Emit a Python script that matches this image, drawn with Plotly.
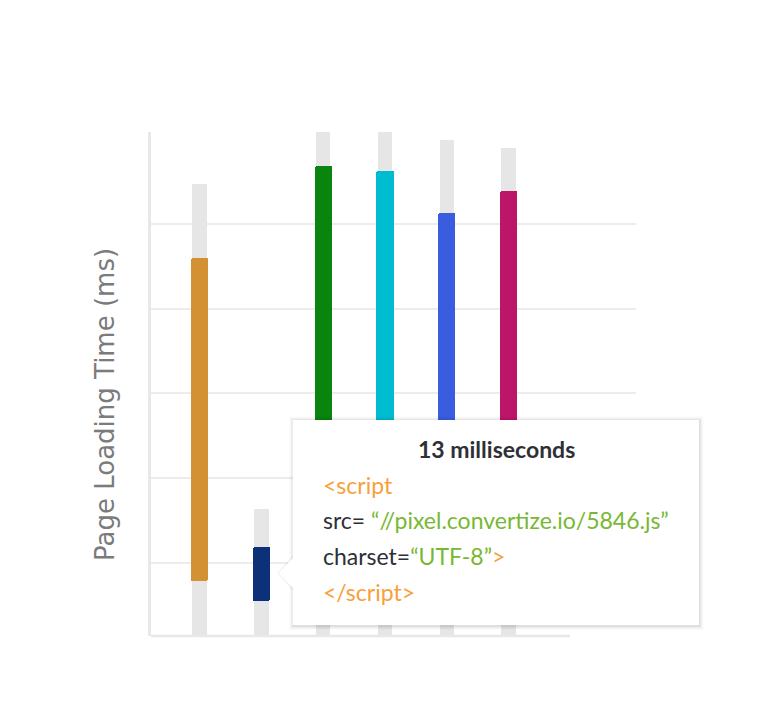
import plotly.graph_objects as go

# page loading time per snippet, in ms
snippets = ["s1", "s2", "s3", "s4", "s5", "s6"]
track_top = [109.4, 32.7, 122.0, 122.0, 119.8, 117.9]
load_low = [15.8, 11.0, 30.0, 28.0, 26.0, 24.0]
load_high = [92.0, 23.8, 113.7, 112.5, 102.6, 107.8]
bar_colors = ["#d39133", "#0d3178", "#08840f", "#00bcd0", "#3a5de0", "#bc1669"]
grid_ticks = [20, 40, 60, 80, 100]

# plot area in page pixels; the page body adds an 8px offset
OFF = 8
L, R, T, B = 151, 636, 132, 636
W, H = R - L, B - T
FIG_W, FIG_H = 780 - 2 * OFF, 716 - 2 * OFF


def px(x):
    return (x - L) / W


def py(y):
    return (B - y) / H


fig = go.Figure()

fig.add_trace(go.Bar(
    x=snippets, y=track_top, base=0, width=0.233,
    marker=dict(color="#e6e6e6", line=dict(width=0)),
    hoverinfo="skip", showlegend=False,
))
fig.add_trace(go.Bar(
    x=snippets, y=[h - l for h, l in zip(load_high, load_low)], base=load_low,
    width=0.278,
    marker=dict(color=bar_colors, line=dict(width=0), cornerradius=2),
    showlegend=False,
))

shapes = []
# bottom line
shapes.append(dict(type="line", xref="paper", yref="paper",
                   x0=0, x1=px(570), y0=0, y1=0,
                   line=dict(color="#e8e8e8", width=2.5), layer="above"))

# tooltip shadow
bx0, bx1, by0, by1 = 292.7, 699, 420, 625
for i, op in enumerate([0.05, 0.035, 0.025, 0.015]):
    d = i + 1
    shapes.append(dict(type="rect", xref="paper", yref="paper",
                       x0=px(bx0 - d + 0.5), x1=px(bx1 + d + 0.5),
                       y0=py(by1 + d + 1), y1=py(by0 - d + 0.5),
                       fillcolor="rgba(0,0,0,%s)" % op, line=dict(width=0),
                       layer="above"))
shapes.append(dict(type="path", xref="paper", yref="paper",
                   path="M %f %f L %f %f L %f %f Z" % (
                       px(293), py(555.5), px(277), py(573), px(293), py(590.5)),
                   fillcolor="rgba(0,0,0,0.05)", line=dict(width=0),
                   layer="above"))
shapes.append(dict(type="rect", xref="paper", yref="paper",
                   x0=px(bx0), x1=px(bx1), y0=py(by1), y1=py(by0),
                   fillcolor="white", line=dict(width=0), layer="above"))
shapes.append(dict(type="path", xref="paper", yref="paper",
                   path="M %f %f L %f %f L %f %f Z" % (
                       px(294), py(557), px(278.5), py(573), px(294), py(589)),
                   fillcolor="white", line=dict(width=0), layer="above"))

orange = "#f7a03c"
green = "#78b833"
dark = "#2d3035"
tip_font = dict(family="Lato", size=23, color=dark)

annotations = [
    dict(text="Page Loading Time (ms)", textangle=-90, x=px(105), y=py(405),
         font=dict(family="DejaVu Sans", size=26, color="#7b7b7b")),
    dict(text="<b>13 milliseconds</b>", x=px(496), y=py(449),
         font=tip_font),
    dict(text="<span style='color:%s'>&lt;script</span>" % orange,
         x=px(321), y=py(485), xanchor="left", font=tip_font),
    dict(text="src= <span style='color:%s'>“//pixel.convertize.io/5846.js”</span>" % green,
         x=px(321), y=py(520), xanchor="left", font=tip_font),
    dict(text="charset=<span style='color:%s'>“UTF-8”</span><span style='color:%s'>&gt;</span>" % (green, orange),
         x=px(321), y=py(556), xanchor="left", font=tip_font),
    dict(text="<span style='color:%s'>&lt;/script&gt;</span>" % orange,
         x=px(321), y=py(592), xanchor="left", font=tip_font),
]
for a in annotations:
    a.update(xref="paper", yref="paper", showarrow=False)
    a.setdefault("xanchor", "center")
    a.setdefault("yanchor", "middle")

fig.update_layout(
    width=FIG_W, height=FIG_H,
    margin=dict(l=L - OFF, r=FIG_W - (R - OFF), t=T - OFF,
                b=FIG_H - (B - OFF), pad=0),
    paper_bgcolor="white", plot_bgcolor="white",
    barmode="overlay", bargap=0,
    shapes=shapes, annotations=annotations,
    xaxis=dict(type="category", categoryorder="array", categoryarray=snippets,
               range=[-0.785, 7.06], showticklabels=False, showgrid=False,
               zeroline=False, showline=False, ticks=""),
    yaxis=dict(range=[2.77, 121.7], tickvals=grid_ticks, showticklabels=False,
               gridcolor="#ececec", gridwidth=1.5, zeroline=False,
               showline=True, linecolor="#e8e8e8", linewidth=2.5, ticks=""),
)

fig.write_html("out.html")
